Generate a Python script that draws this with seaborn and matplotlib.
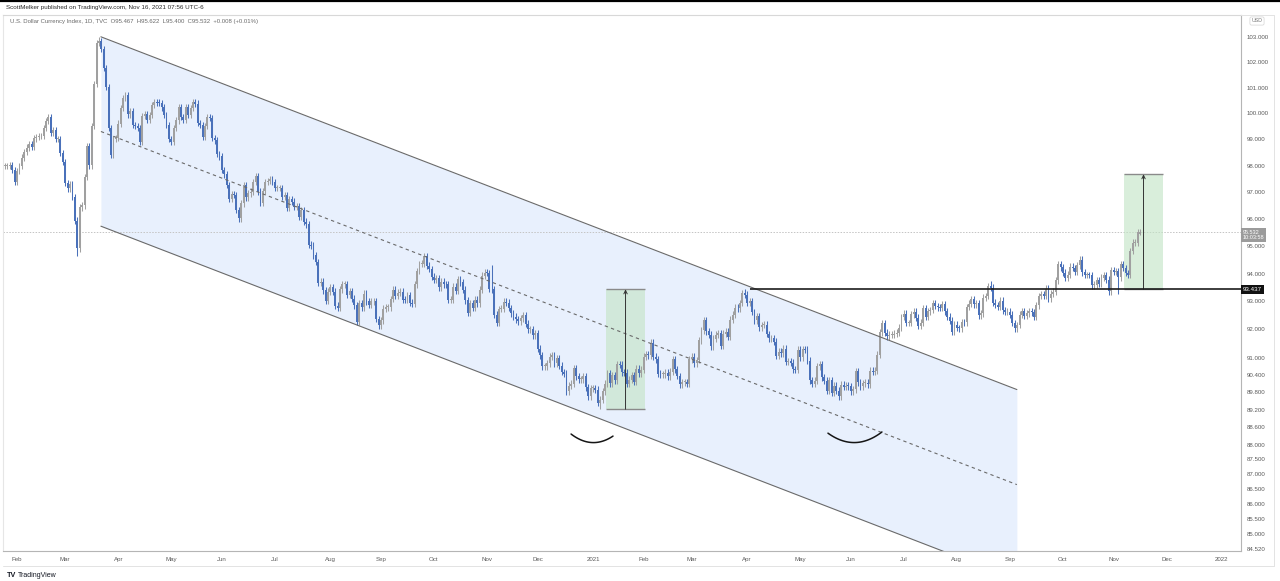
import numpy as np
import pandas as pd
import matplotlib
matplotlib.use("Agg")
import matplotlib.pyplot as plt
from matplotlib.transforms import blended_transform_factory
from matplotlib.lines import Line2D
from matplotlib.ticker import NullLocator
import seaborn as sns

# ---------------- data: TVC:DXY daily closes ----------------
c_2020_01 = [97.98, 97.98, 98.01, 97.85, 97.39]
c_2020_02 = [97.80, 98.00, 98.31, 98.52, 98.69, 98.83, 98.72, 99.04, 99.10, 99.12,
             99.13, 99.44, 99.72, 99.86, 99.26, 99.36, 99.01, 99.03, 98.47, 98.13]
c_2020_03 = [97.36, 97.15, 97.31, 96.82, 95.95, 94.92, 96.44, 96.51, 97.57, 98.75,
             98.01, 99.51, 101.13, 102.75, 102.82, 102.53, 101.75, 101.04, 99.44, 98.40,
             99.03, 99.05]
c_2020_04 = [99.61, 100.21, 100.60, 100.71, 99.96, 100.08, 99.54, 99.52, 99.44, 98.91,
             99.89, 99.98, 99.74, 99.93, 100.31, 100.45, 100.42, 100.40, 100.23, 99.94,
             99.54, 99.02]
c_2020_05 = [98.90, 99.45, 99.73, 100.25, 99.86, 99.75, 100.23, 99.93, 100.22, 100.44,
             100.38, 99.62, 99.55, 99.11, 99.51, 99.85, 99.82, 99.05, 98.96, 98.44, 98.35]
c_2020_06 = [97.84, 97.67, 97.27, 96.76, 96.93, 96.89, 96.35, 96.03, 96.59, 97.28,
             96.81, 96.96, 97.03, 97.38, 97.62, 97.03, 96.61, 97.04, 97.38, 97.43,
             97.51, 97.39]
c_2020_07 = [97.17, 97.17, 97.17, 96.84, 96.89, 96.43, 96.76, 96.65, 96.47, 96.48,
             96.08, 96.34, 95.91, 95.81, 95.06, 95.02, 94.67, 94.43, 93.67, 93.71,
             93.40, 93.01, 93.35]
c_2020_08 = [93.52, 93.35, 92.85, 92.78, 93.44, 93.62, 93.62, 93.24, 93.38, 93.10,
             92.86, 92.27, 92.94, 92.79, 93.28, 93.00, 92.88, 93.00, 93.02, 92.37, 92.14]
c_2020_09 = [92.33, 92.74, 92.79, 92.79, 93.09, 93.42, 93.20, 93.32, 93.35, 93.06,
             93.05, 93.22, 92.96, 92.92, 93.62, 94.10, 94.35, 94.37, 94.64, 94.29,
             94.17, 93.89]
c_2020_10 = [93.79, 93.85, 93.51, 93.71, 93.62, 93.61, 93.06, 93.06, 93.53, 93.38,
             93.80, 93.69, 93.42, 93.04, 92.60, 92.94, 92.77, 93.06, 92.93, 93.42,
             93.93, 94.04]
c_2020_11 = [94.03, 93.45, 93.43, 92.52, 92.23, 92.73, 92.74, 92.99, 92.96, 92.76,
             92.57, 92.45, 92.36, 92.29, 92.39, 92.51, 92.20, 92.01, 92.01, 91.79, 91.87]
c_2020_12 = [91.32, 91.09, 90.70, 90.70, 90.81, 91.04, 91.09, 90.81, 90.98, 90.72,
             90.50, 90.44, 89.83, 90.02, 90.10, 90.64, 90.35, 90.25, 90.25, 90.35,
             89.97, 89.66, 89.94]
c_2021_01 = [89.94, 89.88, 89.43, 89.53, 89.83, 90.10, 90.45, 90.11, 90.39, 90.22,
             90.77, 90.76, 90.49, 90.48, 90.09, 90.23, 90.38, 90.16, 90.62, 90.45, 90.58]
c_2021_02 = [91.03, 91.12, 91.09, 91.53, 91.04, 90.94, 90.44, 90.42, 90.42, 90.48,
             90.35, 90.51, 90.94, 90.59, 90.36, 90.08, 90.15, 90.15, 90.09, 90.94]
c_2021_03 = [91.03, 90.80, 90.92, 91.61, 91.97, 92.34, 91.94, 91.82, 91.41, 91.67,
             91.81, 91.87, 91.43, 91.85, 91.92, 91.73, 92.35, 92.52, 92.78, 92.75,
             92.94, 93.29, 93.24]
c_2021_04 = [92.94, 93.02, 92.62, 92.33, 92.47, 92.07, 92.16, 92.17, 91.84, 91.68,
             91.69, 91.56, 91.07, 91.21, 91.16, 91.32, 90.85, 90.87, 90.83, 90.59,
             90.58, 91.28]
c_2021_05 = [91.02, 91.30, 91.28, 90.90, 90.22, 90.09, 90.20, 90.70, 90.77, 90.32,
             90.20, 89.84, 90.22, 89.77, 90.02, 89.85, 89.66, 90.05, 89.98, 90.03, 90.01]
c_2021_06 = [89.83, 89.90, 90.52, 90.14, 90.01, 90.11, 90.12, 90.08, 90.55, 90.51,
             90.54, 91.11, 91.90, 92.23, 91.89, 91.75, 91.81, 91.81, 91.85, 91.89,
             92.06, 92.44]
c_2021_07 = [92.56, 92.23, 92.23, 92.54, 92.63, 92.42, 92.12, 92.24, 92.75, 92.44,
             92.65, 92.69, 92.93, 92.84, 92.79, 92.77, 92.90, 92.64, 92.46, 92.31,
             91.91, 92.17]
c_2021_08 = [92.05, 92.04, 92.26, 92.25, 92.80, 92.92, 93.07, 92.89, 92.94, 92.50,
             92.58, 93.14, 93.19, 93.55, 93.50, 92.96, 92.87, 92.81, 93.03, 92.68,
             92.63, 92.63]
c_2021_09 = [92.52, 92.23, 92.04, 92.16, 92.52, 92.65, 92.49, 92.58, 92.66, 92.61,
             92.46, 92.86, 93.20, 93.27, 93.20, 93.46, 93.11, 93.28, 93.35, 93.76,
             94.35, 94.23]
c_2021_10 = [94.04, 93.84, 93.97, 94.26, 94.21, 94.07, 94.30, 94.51, 94.05, 93.96,
             93.96, 93.95, 93.58, 93.60, 93.77, 93.63, 93.86, 93.94, 93.79, 93.36, 94.12]
c_2021_11 = [94.08, 94.09, 93.87, 94.35, 94.21, 94.03, 93.96, 94.82, 95.13, 95.13,
             95.524, 95.532]

month_first_days = ["2020-01-27", "2020-02-01", "2020-03-01", "2020-04-01", "2020-05-01",
                    "2020-06-01", "2020-07-01", "2020-08-01", "2020-09-01", "2020-10-01",
                    "2020-11-01", "2020-12-01", "2021-01-01", "2021-02-01", "2021-03-01",
                    "2021-04-01", "2021-05-01", "2021-06-01", "2021-07-01", "2021-08-01",
                    "2021-09-01", "2021-10-01", "2021-11-01"]
month_closes = [c_2020_01, c_2020_02, c_2020_03, c_2020_04, c_2020_05, c_2020_06,
                c_2020_07, c_2020_08, c_2020_09, c_2020_10, c_2020_11, c_2020_12,
                c_2021_01, c_2021_02, c_2021_03, c_2021_04, c_2021_05, c_2021_06,
                c_2021_07, c_2021_08, c_2021_09, c_2021_10, c_2021_11]

# notable wick extremes
wick_highs = {"2020-03-20": 102.99, "2020-11-04": 94.30, "2021-03-31": 93.437,
              "2021-08-20": 93.73, "2021-11-16": 95.622}
wick_lows = {"2020-03-09": 94.65, "2021-01-06": 89.21, "2021-11-03": 93.28,
             "2021-11-16": 95.400}
last_open = 95.467

y_tick_values = [103, 102, 101, 100, 99, 98, 97, 96, 95, 94, 93, 92, 91, 90.4, 89.8,
                 89.2, 88.6, 88, 87.5, 87, 86.5, 86, 85.5, 85, 84.52]
x_tick_months = ["2020-02-01", "2020-03-01", "2020-04-01", "2020-05-01", "2020-06-01",
                 "2020-07-01", "2020-08-01", "2020-09-01", "2020-10-01", "2020-11-01",
                 "2020-12-01", "2021-01-01", "2021-02-01", "2021-03-01", "2021-04-01",
                 "2021-05-01", "2021-06-01", "2021-07-01", "2021-08-01", "2021-09-01",
                 "2021-10-01", "2021-11-01", "2021-12-01", "2022-01-01"]
x_tick_labels = ["Feb", "Mar", "Apr", "May", "Jun", "Jul", "Aug", "Sep", "Oct", "Nov",
                 "Dec", "2021", "Feb", "Mar", "Apr", "May", "Jun", "Jul", "Aug", "Sep",
                 "Oct", "Nov", "Dec", "2022"]

# drawings (trading-day index, price)
channel_idx = [39.8, 419.9]
channel_upper = [103.0, 89.89]
channel_lower = [95.74, 83.53]
box1_idx, box1_price = [249.4, 265.6], [89.21, 93.437]
box2_idx, box2_price = [464.4, 480.5], [93.437, 97.68]
resistance_level, resistance_from = 93.437, 309.1
last_price = 95.532
smile1_idx, smile1_price = [234.9, 243.6, 252.3], [88.36, 88.07, 88.29]
smile2_idx, smile2_price = [341.5, 352.7, 363.9], [88.39, 88.07, 88.43]

# ---------------- build OHLC frame ----------------
frames = []
for first, closes in zip(month_first_days, month_closes):
    d = pd.bdate_range(first, periods=len(closes))
    frames.append(pd.DataFrame({"date": d, "close": closes}))
df = pd.concat(frames, ignore_index=True)
df["idx"] = np.arange(len(df))
df["open"] = df["close"].shift(1).fillna(df["close"].iloc[0])
df.loc[df.index[-1], "open"] = last_open
wick_pad = 0.12
df["high"] = df[["open", "close"]].max(axis=1) + wick_pad
df["low"] = df[["open", "close"]].min(axis=1) - wick_pad
for k, v in wick_highs.items():
    df.loc[df["date"] == pd.Timestamp(k), "high"] = v
for k, v in wick_lows.items():
    df.loc[df["date"] == pd.Timestamp(k), "low"] = v
df["dir"] = np.where(df["close"] >= df["open"], "up", "down")

start = str(df["date"].iloc[0].date())

# ---------------- figure ----------------
sns.set_style("white")
plt.rcParams["font.family"] = ["Liberation Sans", "DejaVu Sans"]
W, H = 1280, 581
fig = plt.figure(figsize=(W / 100, H / 100), dpi=100)
fig.patch.set_facecolor("white")
ax = fig.add_axes([3 / W, (H - 551) / H, (1241 - 3) / W, (551 - 15) / H])
ax.set_yscale("log")
ax.set_xlim(-0.83, 512.9)
ax.set_ylim(84.46, 103.87)

UP, DOWN = "#a0a0a0", "#4a71ba"

# channel fill
xs = np.array(channel_idx)
up_ = np.array(channel_upper)
lo_ = np.array(channel_lower)
mid_ = np.sqrt(up_ * lo_)
ax.fill_between(xs, lo_, up_, color="#e8f0fd", zorder=0.5, lw=0)
# long-position boxes
for bi, bp in [(box1_idx, box1_price), (box2_idx, box2_price)]:
    ax.fill_between(bi, [bp[0]] * 2, [bp[1]] * 2, color="#c3e4c5", alpha=0.62, lw=0, zorder=1)
    ax.hlines(bp, bi[0], bi[1], color="#8a8a8a", lw=1.0, zorder=1.2)

# candles
for d, col in [("up", UP), ("down", DOWN)]:
    s = df[df["dir"] == d]
    ax.vlines(s["idx"], s["low"], s["high"], color=col, lw=0.75, zorder=2)
    bottom = s[["open", "close"]].min(axis=1)
    height = (s["close"] - s["open"]).abs().clip(lower=0.03)
    ax.bar(s["idx"], height, bottom=bottom, width=0.78, color=col, lw=0, zorder=2.1)

sns.lineplot(x=xs, y=up_, ax=ax, color="#6a6a6a", lw=0.8, zorder=3)
sns.lineplot(x=xs, y=lo_, ax=ax, color="#6a6a6a", lw=0.8, zorder=3)
sns.lineplot(x=xs, y=mid_, ax=ax, color="#6a6a6a", lw=0.8, zorder=3, linestyle=(0, (3, 3)))

# arrows inside boxes
for bi, bp in [(box1_idx, box1_price), (box2_idx, box2_price)]:
    m = (bi[0] + bi[1]) / 2
    ax.annotate("", xy=(m, bp[1]), xytext=(m, bp[0]),
                arrowprops=dict(arrowstyle="->,head_length=0.25,head_width=0.12",
                                color="#333333", lw=0.7, shrinkA=0, shrinkB=0), zorder=4)

# resistance line & last price line
ax.hlines(resistance_level, resistance_from, ax.get_xlim()[1], color="#1c1c1c", lw=1.2, zorder=4)
ax.axhline(last_price, color="#c4c4c4", lw=0.7, ls=(0, (1.5, 1.5)), zorder=0.8)

# smiles
def smile(ix, pr):
    t = np.linspace(0, 1, 50)
    x0, x1, x2 = ix
    l0, l1, l2 = np.log(pr)
    cx, cl = 2 * x1 - (x0 + x2) / 2, 2 * l1 - (l0 + l2) / 2
    x = (1 - t) ** 2 * x0 + 2 * (1 - t) * t * cx + t ** 2 * x2
    l = (1 - t) ** 2 * l0 + 2 * (1 - t) * t * cl + t ** 2 * l2
    ax.plot(x, np.exp(l), color="#151515", lw=1.1, zorder=4, solid_capstyle="round")

smile(smile1_idx, smile1_price)
smile(smile2_idx, smile2_price)

# axes styling
ax.yaxis.tick_right()
ax.set_yticks(y_tick_values)
ax.set_yticklabels([f"{v:.3f}" for v in y_tick_values])
ax.yaxis.set_minor_locator(NullLocator())
xt = [np.busday_count(start, m) for m in x_tick_months]
ax.set_xticks(xt)
ax.set_xticklabels(x_tick_labels)
ax.tick_params(axis="both", length=0, labelsize=4.4, labelcolor="#5a5a5a")
ax.tick_params(axis="y", pad=4)
ax.tick_params(axis="x", pad=4.5)
ax.set_xlabel("")
ax.set_ylabel("")
for side, c in [("left", "#e6e6e6"), ("top", "#d8d8d8"), ("right", "#b5b5b5"), ("bottom", "#b5b5b5")]:
    ax.spines[side].set_color(c)
    ax.spines[side].set_linewidth(0.8)

trans = blended_transform_factory(ax.transAxes, ax.transData)
ax.text(1.0015, resistance_level, "93.437", transform=trans, ha="left", va="center",
        fontsize=4.4, color="white", zorder=10,
        bbox=dict(boxstyle="square,pad=0.35", fc="#111111", ec="none"))
ax.annotate("95.532\n10:03:58", xy=(1.0015, last_price), xycoords=trans,
            xytext=(0, -2.2), textcoords="offset points", ha="left", va="center",
            fontsize=4.0, color="white", linespacing=1.0, zorder=10,
            bbox=dict(boxstyle="square,pad=0.3", fc="#9b9b9b", ec="none"))

# figure decorations
fig.add_artist(Line2D([0, 1], [1 - 0.8 / H, 1 - 0.8 / H], color="black", lw=1.6))
fig.add_artist(Line2D([3 / W, 1274 / W], [(H - 566) / H] * 2, color="#e3e3e3", lw=0.7))
fig.add_artist(Line2D([1274 / W] * 2, [(H - 566) / H, (H - 15) / H], color="#e3e3e3", lw=0.7))
fig.add_artist(Line2D([1241 / W, 1274 / W], [(H - 15) / H] * 2, color="#e3e3e3", lw=0.7))
fig.text(6 / W, 1 - 7.5 / H, "ScottMelker published on TradingView.com, Nov 16, 2021 07:56 UTC-6",
         fontsize=4.5, color="#2a2a2a", va="center", ha="left")
fig.text(10 / W, 1 - 22 / H,
         "U.S. Dollar Currency Index, 1D, TVC  O95.467  H95.622  L95.400  C95.532  +0.008 (+0.01%)",
         fontsize=4.3, color="#6a6a6a", va="center", ha="left")
fig.text(1257 / W, 1 - 21 / H, "USD", fontsize=3.8, color="#777777", ha="center", va="center",
         bbox=dict(boxstyle="round,pad=0.3", fc="white", ec="#d5d5d5", lw=0.5))
fig.text(7 / W, 1 - 575.5 / H, "TV", fontsize=5.2, color="#131722", fontweight="heavy",
         va="center", ha="left")
fig.text(18 / W, 1 - 575.5 / H, "TradingView", fontsize=5.0, color="#131722",
         va="center", ha="left")

fig.savefig("out.png", dpi=100, facecolor="white")
